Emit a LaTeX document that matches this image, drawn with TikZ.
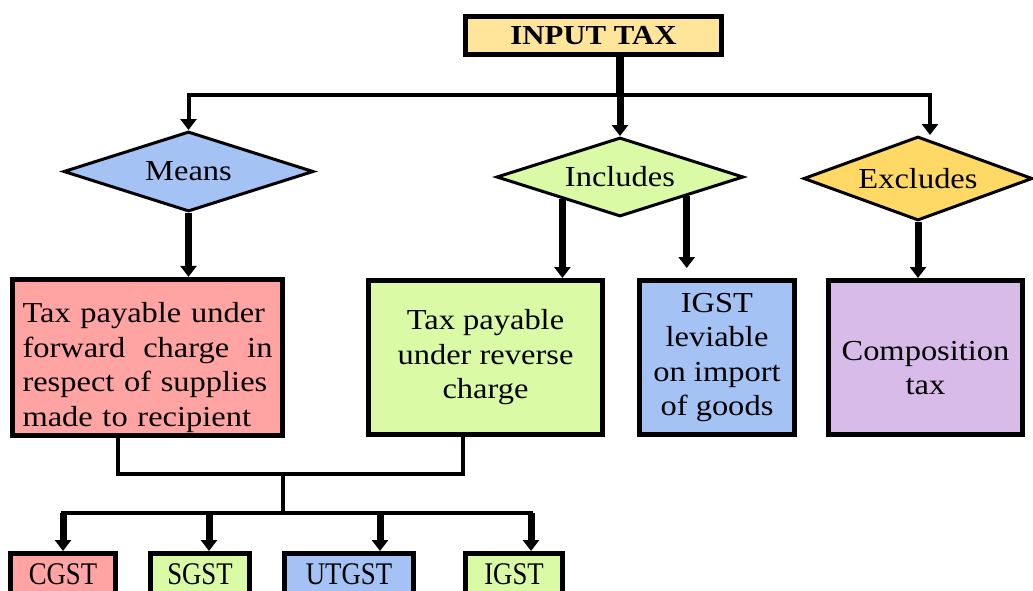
\documentclass[tikz,border=0pt]{standalone}
\usepackage{fontspec}
\setmainfont{Liberation Serif}[FakeStretch=1.12]
\newfontfamily\tagfont{Liberation Serif}[FakeStretch=0.85]
\usetikzlibrary{arrows.meta, positioning, calc, shapes.geometric}

\definecolor{inyellow}{RGB}{255,229,153}
\definecolor{meansblue}{RGB}{164,194,244}
\definecolor{inclgreen}{RGB}{218,250,166}
\definecolor{exclorange}{RGB}{255,217,102}
\definecolor{fwdpink}{RGB}{255,163,163}
\definecolor{comppurple}{RGB}{217,187,234}

\begin{document}
\begin{tikzpicture}[x=1pt, y=-1pt, >={Triangle[width=16pt, length=11pt]},
    every node/.style={font=\fontsize{29}{34.5}\selectfont},
    choice/.style={diamond, draw, line width=3pt, inner sep=0pt, aspect=3},
    card/.style={rectangle, draw, line width=5pt, minimum height=154pt, align=center},
    tag/.style={rectangle, draw, line width=5pt, minimum height=41pt, inner sep=0pt, font=\tagfont\fontsize{31.5}{34.5}\selectfont},
    link/.style={line width=4pt, line cap=rect},
    fat/.style={line width=7pt}]
  \useasboundingbox (0,0) rectangle (1033,590);

  \node[rectangle, draw, line width=5pt, fill=inyellow, minimum width=256pt, minimum height=38pt, inner sep=0pt,
        font=\bfseries\fontsize{27.5}{32}\selectfont] (IT) at (593.5,35.5) {INPUT TAX};

  \node[choice, fill=meansblue, minimum width=250pt, minimum height=80pt] (MN) at (188.5,171.5) {Means};
  \node[choice, fill=inclgreen, minimum width=247pt, minimum height=79pt] (IN) at (620,177) {Includes};
  \node[choice, fill=exclorange, minimum width=229pt, minimum height=84pt] (EX) at (918,178.5) {Excludes};

  \node[card, fill=fwdpink, minimum width=270pt, text width=250pt, inner xsep=0pt, align=left] (FWD) at (147.5,357.5)
    {\hyphenpenalty=10000\rule{0pt}{40pt}Tax payable under\\ forward\hfill charge\hfill in\\ respect of supplies\\ made to recipient};
  \node[card, fill=inclgreen, minimum width=234pt] (REV) at (485.5,357.5) {Tax payable\\ under reverse\\ charge};
  \node[card, fill=meansblue, minimum width=155pt] (IMP) at (717,357.5) {IGST\\ leviable\\ on import\\ of goods};
  \node[card, fill=comppurple, minimum width=194pt] (CMP) at (925.5,357.5) {\rule{0pt}{40pt}Composition\\ tax};

  \node[tag, fill=fwdpink, minimum width=105pt] (CG) at (63,574) {CGST};
  \node[tag, fill=inclgreen, minimum width=99pt] (SG) at (200,574) {SGST};
  \node[tag, fill=meansblue, minimum width=129pt] (UT) at (349,574) {UTGST};
  \node[tag, fill=inclgreen, minimum width=97pt] (IG) at (514,574) {IGST};

  % top branches
  \coordinate (R) at (930,95);
  \draw[line width=8pt] (IT.south -| IN.north) -- (R -| IN.north);
  \draw[fat, ->] (R -| IN.north) -- (IN.north);
  \draw[link, <->] (MN.north) |- (R) -- (R |- EX.north);

  \draw[fat, ->] (MN.south) -- (MN.south |- FWD.north);
  \draw[fat, ->] (IN.201.4) -- (IN.201.4 |- REV.north);
  \draw[fat, ->, shorten >=10pt] (IN.344.2) -- (IN.344.2 |- IMP.north);
  \draw[fat, ->] (EX.south) -- (EX.south |- CMP.north);

  % bottom branches
  \coordinate (J) at (283,474);
  \coordinate (K) at (283,513);
  \draw[link] ([xshift=-29.5pt]FWD.south) |- (J) -| ([xshift=-22.5pt]REV.south);
  \draw[link] (J) -- (K);
  \draw[link] (K -| CG.north) -- ($(K -| IG.north)+(17,0)$);
  \foreach \n/\d in {CG/0, SG/9, UT/31, IG/17}
    \draw[fat, ->] ($(K -| \n.north)+(\d,0)$) -- ($(\n.north)+(\d,0)$);
\end{tikzpicture}
\end{document}
